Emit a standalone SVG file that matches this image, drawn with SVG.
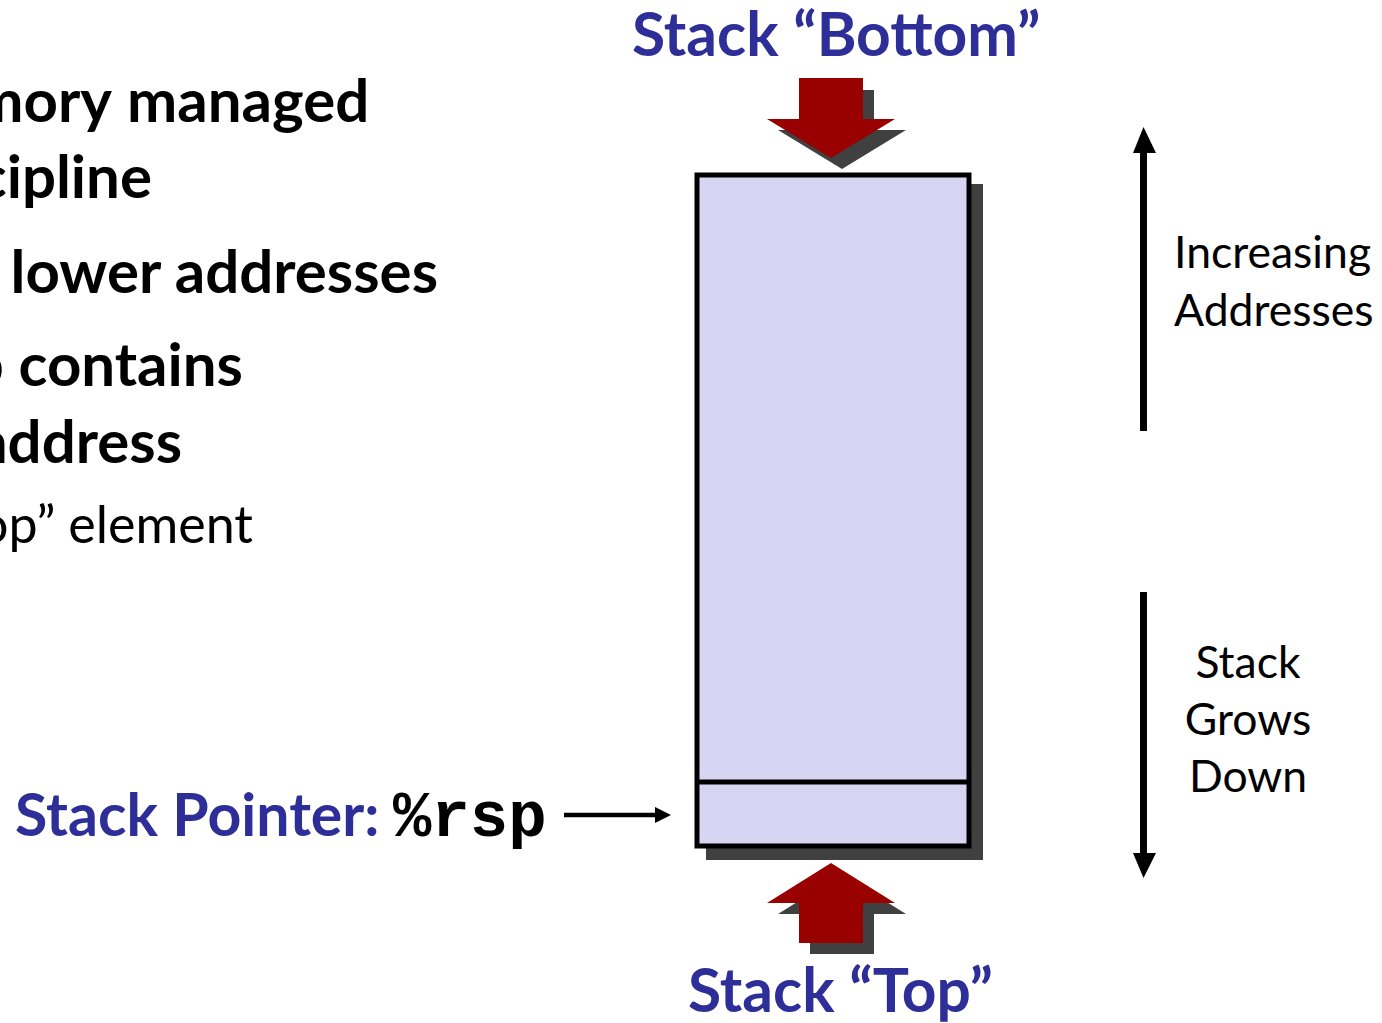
<svg xmlns="http://www.w3.org/2000/svg" width="1382" height="1023" viewBox="0 0 1382 1023">
  <style>
    .bold { font-family: Lato, "Liberation Sans", sans-serif; font-weight: bold; fill: #000; font-size: 60px; }
    .reg { font-family: Lato, "Liberation Sans", sans-serif; font-weight: normal; fill: #000; }
    .title { font-family: Lato, "Liberation Sans", sans-serif; font-weight: bold; fill: #2E2E99; font-size: 60.5px; }
    .title.small { font-size: 59px; }
    .mono { font-family: "Liberation Mono", "Courier New", monospace; font-weight: bold; fill: #000; font-size: 64px; }
    .side { font-size: 44.5px; }
    .shadow { fill: #404040; }
    .red { fill: #990000; }
    .cell { fill: #D6D6F3; stroke: #000; stroke-width: 5; }
  </style>

  <!-- bullet text, clipped at the left edge -->
  <g id="bullets">
    <text class="bold" x="112" y="122" text-anchor="end">mory</text>
    <text class="bold" x="127" y="122">managed</text>
    <text class="bold" x="152" y="198" text-anchor="end">cipline</text>
    <text class="bold" x="438" y="293" text-anchor="end">lower addresses</text>
    <text class="bold" x="243" y="386" text-anchor="end">p contains</text>
    <text class="bold" x="182" y="463" text-anchor="end">address</text>
    <text class="reg" x="253" y="543" font-size="52" text-anchor="end">op” element</text>
  </g>

  <!-- stack body with drop shadow -->
  <g id="stack">
    <rect class="shadow" x="706" y="184" width="277" height="676"/>
    <rect class="cell" x="697" y="175" width="272" height="671"/>
    <line x1="697" y1="782" x2="969" y2="782" stroke="#000" stroke-width="5"/>
  </g>

  <!-- "Bottom" arrow pointing down onto the stack -->
  <g id="bottom-arrow">
    <polygon class="shadow" points="810,90 874,90 874,130 906,130 842,169 778,130 810,130"/>
    <polygon class="red" points="799,78 863,78 863,119 895,119 831,158 767,119 799,119"/>
  </g>

  <!-- "Top" arrow pointing up at the stack -->
  <g id="top-arrow">
    <polygon class="shadow" points="842,874 906,914 874,914 874,954 810,954 810,914 778,914"/>
    <polygon class="red" points="831,863 895,903 863,903 863,943 799,943 799,903 767,903"/>
  </g>

  <g id="labels">
    <text class="title" x="632" y="56">Stack “Bottom”</text>
    <text class="title" x="688" y="1012">Stack “Top”</text>
    <text class="title small" x="15" y="836">Stack Pointer:</text>
    <text class="mono" x="393" y="836">%rsp</text>
    <text class="reg side" x="1174" y="268">Increasing</text>
    <text class="reg side" x="1174" y="326">Addresses</text>
    <text class="reg side" x="1248" y="678" text-anchor="middle">Stack</text>
    <text class="reg side" x="1248" y="735" text-anchor="middle">Grows</text>
    <text class="reg side" x="1248" y="792" text-anchor="middle">Down</text>
  </g>

  <!-- connectors -->
  <g id="connectors">
    <line x1="564" y1="815" x2="656" y2="815" stroke="#000" stroke-width="4.5"/>
    <polygon points="671,815 655,807 655,823" fill="#000"/>
    <line x1="1143.5" y1="150" x2="1143.5" y2="431" stroke="#000" stroke-width="7"/>
    <polygon points="1143.5,127 1156,153 1133,153" fill="#000"/>
    <line x1="1143.5" y1="592" x2="1143.5" y2="856" stroke="#000" stroke-width="7"/>
    <polygon points="1143.5,878 1156,853 1133,853" fill="#000"/>
  </g>
</svg>
